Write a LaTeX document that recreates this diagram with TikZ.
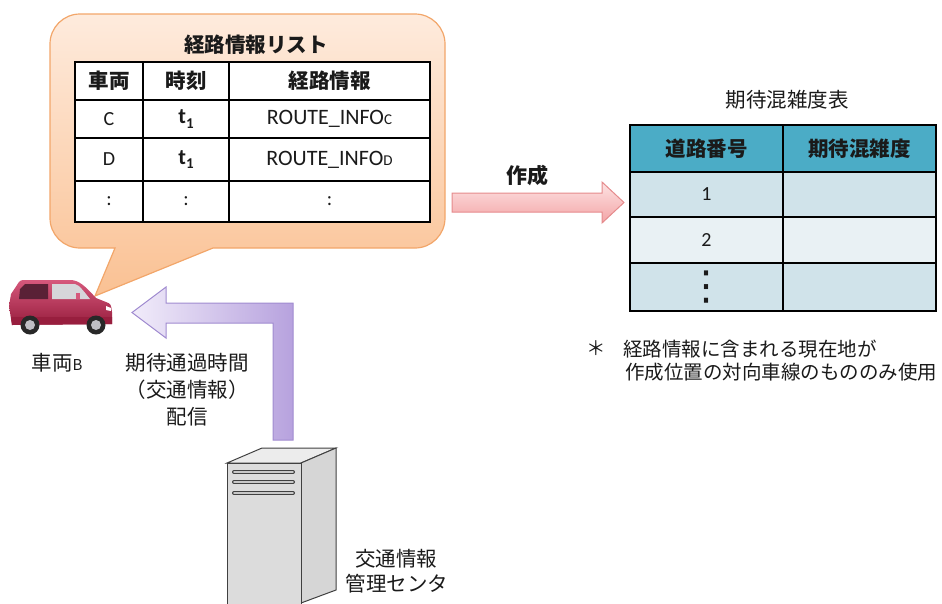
\documentclass[tikz,border=0pt]{standalone}
\usepackage{fontspec}
\setmainfont{Carlito}
\newfontfamily\jp{Noto Sans CJK JP}
\newfontfamily\dv{DejaVu Sans}
\usetikzlibrary{calc}

\definecolor{bubbleedge}{HTML}{F2A66A}
\definecolor{bubbletop}{HTML}{FEEBDD}
\definecolor{bubblebot}{HTML}{FAC193}
\definecolor{pinktop}{HTML}{FDE3E3}
\definecolor{pinkbot}{HTML}{F3A4A6}
\definecolor{pinkedge}{HTML}{E58A8C}
\definecolor{lavleft}{HTML}{F1ECFA}
\definecolor{lavright}{HTML}{B7A2DE}
\definecolor{lavedge}{HTML}{A08BD0}
\definecolor{headfill}{HTML}{4BACC6}
\definecolor{rowdark}{HTML}{D0E3EA}
\definecolor{rowlight}{HTML}{E9F1F4}
\definecolor{carbody}{HTML}{BE3358}
\definecolor{carlight}{HTML}{D6587C}
\definecolor{cardark}{HTML}{981E3E}
\definecolor{carwin}{HTML}{5A2136}
\definecolor{carglass}{HTML}{D6D6DA}
\definecolor{tyre}{HTML}{282828}
\definecolor{hub}{HTML}{BEBEC3}
\definecolor{srvline}{HTML}{404040}
\definecolor{srvtop}{HTML}{ECECEC}
\definecolor{srvside}{HTML}{D6D6D6}
\definecolor{srvfront}{HTML}{DCDCDC}
\definecolor{srvvent}{HTML}{C8C8C8}
\definecolor{txt}{HTML}{1A1A1A}

\newcommand{\jpsize}{\fontsize{20.5}{22}\selectfont}
\newcommand{\latsize}{\fontsize{20}{22}\selectfont}
\newcommand{\tone}{{\fontsize{22}{22}\selectfont\bfseries t}\raisebox{-0.5ex}{\fontsize{15}{15}\selectfont\bfseries 1}}
\newcommand{\routeinfo}[1]{{\fontsize{22}{22}\selectfont ROUTE\_INFO}{\fontsize{15}{15}\selectfont #1}}

\tikzset{
  jptext/.style={font=\jp\jpsize, text=txt, inner sep=0pt},
  jpbold/.style={font=\jp\bfseries\jpsize, text=txt, inner sep=0pt},
  notetext/.style={font=\jp\fontsize{19.5}{21}\selectfont, text=txt, inner sep=0pt},
  cell/.style 2 args={draw=black, line width=1.1pt, rectangle, inner sep=0pt,
    minimum width=#1, minimum height=#2, anchor=center, text=txt, font=\latsize},
}

\begin{document}
\begin{tikzpicture}[x=1pt,y=-1pt]
\useasboundingbox (0,0) rectangle (942,603);

% ---- speech bubble holding the route list ----
\path[draw=bubbleedge, line width=1.2pt, top color=bubbletop, bottom color=bubblebot]
  (213,248) [rounded corners=30] -- (445,248) -- (445,14) -- (50,14) -- (50,248)
  [sharp corners] -- (115,248) -- (95,296) -- cycle;

\node[jpbold] (listtitle) at (256,45) {経路情報リスト};

% route list table
\node[cell={68}{38}, fill=white]  (l11) at (109,81)    {\jp\bfseries\jpsize 車両};
\node[cell={86}{38}, fill=white]  (l12) at (186,81)    {\jp\bfseries\jpsize 時刻};
\node[cell={201}{38}, fill=white] (l13) at (329.5,81)  {\jp\bfseries\jpsize 経路情報};
\node[cell={68}{38}, fill=white]  (l21) at (109,119)   {C};
\node[cell={86}{38}, fill=white]  (l22) at (186,119)   {\tone};
\node[cell={201}{38}, fill=white] (l23) at (329.5,119) {\routeinfo{C}};
\node[cell={68}{43}, fill=white]  (l31) at (109,159.5) {D};
\node[cell={86}{43}, fill=white]  (l32) at (186,159.5) {\tone};
\node[cell={201}{43}, fill=white] (l33) at (329.5,159.5){\routeinfo{D}};
\node[cell={68}{41}, fill=white]  (l41) at (109,201.5) {:};
\node[cell={86}{41}, fill=white]  (l42) at (186,201.5) {:};
\node[cell={201}{41}, fill=white] (l43) at (329.5,201.5){:};

% ---- "create" arrow ----
\path[draw=pinkedge, line width=1pt, top color=pinktop, bottom color=pinkbot]
  (452,193) -- (602,193) -- (602,182) -- (624,202.5) -- (602,223) -- (602,212) -- (452,212) -- cycle;
\node[jpbold, font=\jp\bfseries\fontsize{21}{22}\selectfont] (make) at (527,175) {作成};

% ---- expected congestion table ----
\node[jptext] (tabtitle) at (787,100) {期待混雑度表};
\node[cell={153}{47}, fill=headfill] (r11) at (706.5,148.5) {\jp\bfseries\jpsize 道路番号};
\node[cell={153}{47}, fill=headfill] (r12) at (859.5,148.5) {\jp\bfseries\jpsize 期待混雑度};
\node[cell={153}{45}, fill=rowdark]  (r21) at (706.5,194.5) {1};
\node[cell={153}{45}, fill=rowdark]  (r22) at (859.5,194.5) {};
\node[cell={153}{46}, fill=rowlight] (r31) at (706.5,240)   {2};
\node[cell={153}{46}, fill=rowlight] (r32) at (859.5,240)   {};
\node[cell={153}{48}, fill=rowdark]  (r41) at (706.5,287)   {\dv\fontsize{40}{40}\selectfont ⋮};
\node[cell={153}{48}, fill=rowdark]  (r42) at (859.5,287)   {};

% note
\node[notetext, anchor=west] (star) at (586,348) {＊};
\node[notetext, anchor=west] (note1) at (623,349) {経路情報に含まれる現在地が};
\node[notetext, anchor=west] (note2) at (625,372) {作成位置の対向車線のもののみ使用};

% ---- delivery arrow (L shaped) ----
\path[draw=lavedge, line width=1pt, left color=lavleft, right color=lavright]
  (293,440) -- (293,303) -- (166,303) -- (166,287) -- (132,312.5) -- (166,338)
  -- (166,323) -- (273,323) -- (273,440) -- cycle;
\node[jptext] (del1) at (187,363) {期待通過時間};
\node[jptext] (del2) at (187,390) {（交通情報）};
\node[jptext] (del3) at (187,417) {配信};

% ---- vehicle B ----
\begin{scope}
  \path[top color=carlight, bottom color=cardark]
    (12,325) -- (9,306) -- (11,294) -- (17,285) .. controls (20,280) .. (27,280)
    -- (70,280) .. controls (79,280) and (85,286) .. (96,298) -- (106,302)
    .. controls (111,304) .. (112,312) -- (112,324) -- cycle;
  \fill[cardark] (11,317) -- (112,317) -- (112,324) -- (12,325) -- cycle;
  \fill[carwin] (19,299) -- (20,289) -- (25,284) -- (48,284) -- (48,299) -- cycle;
  \fill[carglass] (52,284) -- (71,284) .. controls (78,284) .. (90,299) -- (52,299) -- cycle;
  \fill[carlight] (76,293) rectangle (80,299);
  \fill[white] (106,306) -- (111,308) -- (111,311) -- (106,310) -- cycle;
  \foreach \wx in {30,96} {
    \fill[tyre] (\wx,325) circle (9.5);
    \fill[hub] (\wx,325) circle (5);
  }
\end{scope}
\node[jptext] (carlabel) at (57,363) {車両{\fontsize{15}{15}\selectfont B}};

% ---- traffic information server ----
\path[draw=srvline, line width=1pt, fill=srvtop]
  (227,463) -- (262,448) -- (336,448) -- (301,463) -- cycle;
\path[draw=srvline, line width=1pt, fill=srvside]
  (301,463) -- (336,448) -- (336,590) -- (301,603) -- cycle;
\path[draw=srvline, line width=1pt, fill=srvfront]
  (227,463) rectangle (301,604);
\foreach \vy in {472,482,493} {
  \draw[srvline, line width=4pt, line cap=round] (234,\vy) -- (293,\vy);
  \draw[srvvent, line width=1.8pt, line cap=round] (234,\vy) -- (293,\vy);
}
\node[jptext] (srv1) at (396,559) {交通情報};
\node[jptext] (srv2) at (397,584) {管理センタ};

\end{tikzpicture}
\end{document}
